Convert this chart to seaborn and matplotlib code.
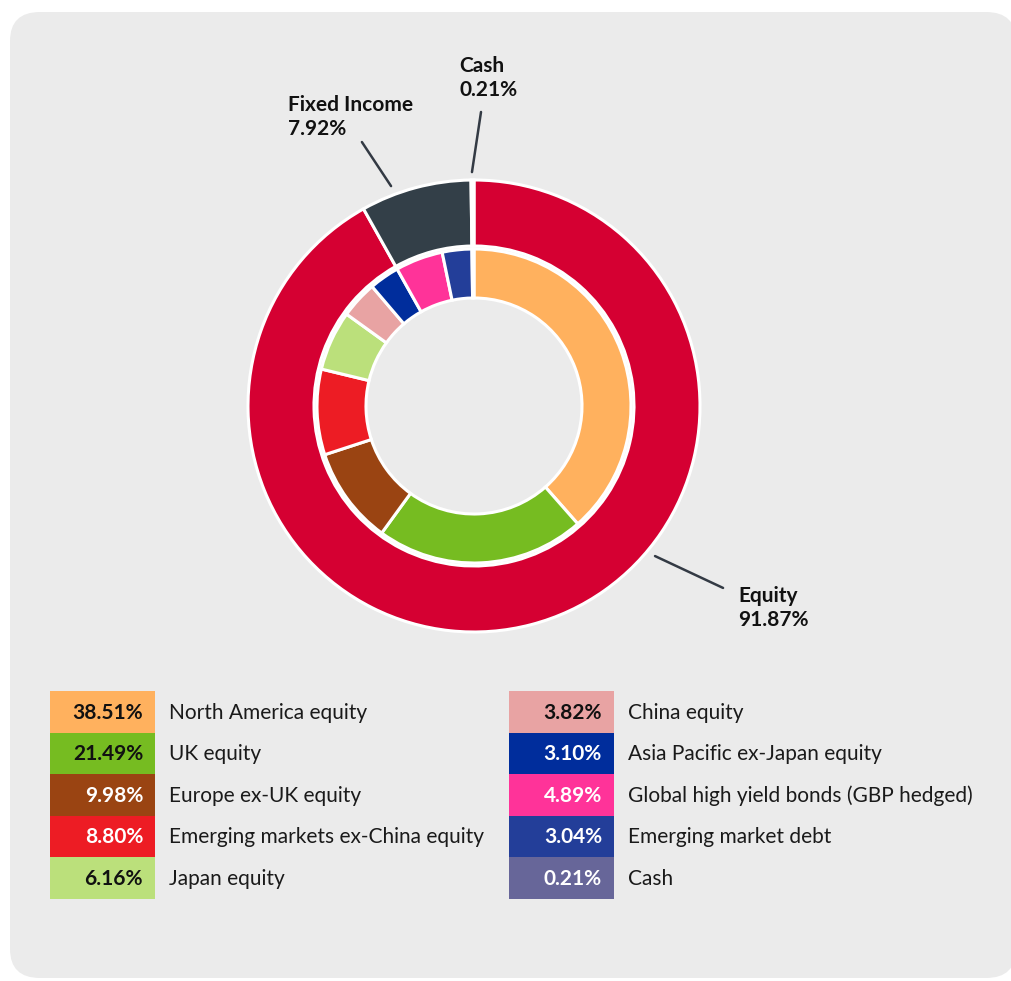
import numpy as np
import seaborn as sns
import matplotlib.pyplot as plt
from matplotlib.patches import FancyBboxPatch

sns.set_theme(style="white")
plt.rcParams["font.family"] = ["Lato", "DejaVu Sans"]

# outer ring: asset classes
outer_labels = ["Equity", "Fixed Income", "Cash"]
outer_values = [91.87, 7.92, 0.21]
outer_colors = ["#d50032", "#333f48", "#ffffff"]

# inner ring: holdings
inner_labels = ["North America equity", "UK equity", "Europe ex-UK equity",
                "Emerging markets ex-China equity", "Japan equity", "China equity",
                "Asia Pacific ex-Japan equity", "Global high yield bonds (GBP hedged)",
                "Emerging market debt", "Cash"]
inner_values = [38.51, 21.49, 9.98, 8.80, 6.16, 3.82, 3.10, 4.89, 3.04, 0.21]
inner_colors = ["#ffb15e", "#76bc21", "#9a4412", "#ed1c24", "#bbe07b", "#e8a3a3",
                "#002d9c", "#ff3399", "#233e99", "#676699"]
box_text = ["#111111", "#111111", "#ffffff", "#ffffff", "#111111", "#111111",
            "#ffffff", "#ffffff", "#ffffff", "#ffffff"]

W, H = 1011, 981
fig = plt.figure(figsize=(W / 100, H / 100), dpi=100)
fig.patch.set_facecolor("white")

# grey rounded panel
rx = 30 / W
panel = FancyBboxPatch((10 / W, 3 / H), (1016 - 10) / W, (H - 12 - 3) / H,
                       boxstyle=f"round,pad=0,rounding_size={rx}",
                       transform=fig.transFigure, facecolor="#ebebeb",
                       edgecolor="none", zorder=-10)
fig.patches.append(panel)

# donut axes, centre (474, 406) px, outer radius 226 px
R = 226
lim = 1.35
side = 2 * lim * R
ax = fig.add_axes([(474 - side / 2) / W, 1 - (406 + side / 2) / H, side / W, side / H])
ax.patch.set_alpha(0)

ax.pie(outer_values, colors=outer_colors, radius=1.0, startangle=90, counterclock=False,
       wedgeprops=dict(width=1 - 160 / R, edgecolor="white", linewidth=2.2))
ax.pie(inner_values, colors=inner_colors, radius=157 / R, startangle=90, counterclock=False,
       wedgeprops=dict(width=(157 - 108) / R, edgecolor="white", linewidth=2.2))
ax.set_xlim(-lim, lim)
ax.set_ylim(-lim, lim)
ax.set_aspect("equal")
ax.axis("off")

# callouts
lc = "#333a44"
callouts = [
    ("Equity", outer_values[0], (0.801, -0.664), (1.102, -0.805), (1.168, -0.894)),
    ("Fixed Income", outer_values[1], (-0.367, 0.973), (-0.496, 1.168), (-0.823, 1.279)),
    ("Cash", outer_values[2], (-0.009, 1.035), (0.031, 1.301), (-0.066, 1.451)),
]
for name, val, p0, p1, tp in callouts:
    ax.plot([p0[0], p1[0]], [p0[1], p1[1]], color=lc, lw=1.8, clip_on=False)
    ax.text(tp[0], tp[1], f"{name}\n{val:.2f}%", ha="left", va="center",
            fontsize=15, fontweight="bold", color="#111111", linespacing=1.3)

# legend table
lg = fig.add_axes([0, 1 - 899 / H, 1, (899 - 691) / H])
lg.patch.set_alpha(0)
lg.set_xlim(0, W)
lg.set_ylim(5, 0)
lg.axis("off")
col_x = [50, 509]
for i, (lab, val, c, tc) in enumerate(zip(inner_labels, inner_values, inner_colors, box_text)):
    col, row = divmod(i, 5)
    x0 = col_x[col]
    lg.barh(row + 0.5, 105, left=x0, height=1.0, color=c, edgecolor="none")
    lg.text(x0 + 93, row + 0.52, f"{val:.2f}%", ha="right", va="center",
            fontsize=15, fontweight="bold", color=tc)
    lg.text(x0 + 119, row + 0.52, lab, ha="left", va="center",
            fontsize=15, color="#1a1a1a")

fig.savefig("out.png", dpi=100, facecolor=fig.get_facecolor())
